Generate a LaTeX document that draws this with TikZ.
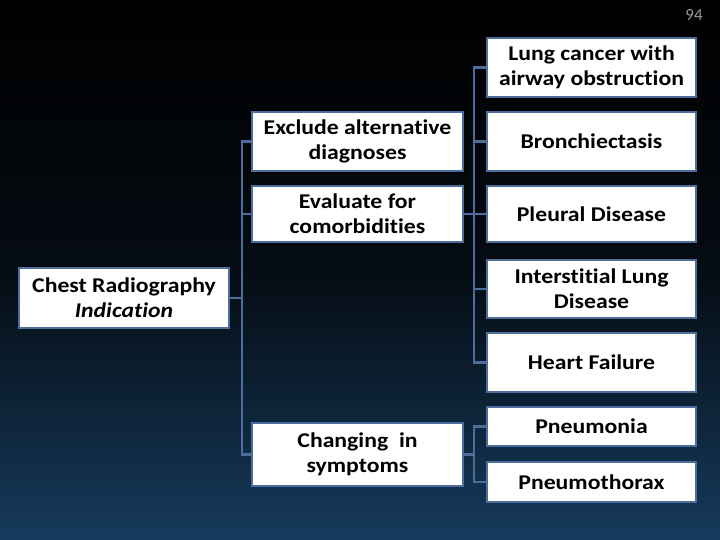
\documentclass[tikz,border=0pt]{standalone}
\usepackage{fontspec}
\setmainfont{Carlito}
\newfontfamily\boxfont[FakeStretch=1.13, Ligatures={NoCommon}]{Carlito}
\usetikzlibrary{calc}
\definecolor{bordercol}{HTML}{4D6E9C}
\definecolor{bgtop}{HTML}{000000}
\definecolor{bgbot}{HTML}{163A5C}
\definecolor{numgray}{HTML}{9A9A9A}
\tikzset{
  box/.style={draw=bordercol, line width=2.6pt, fill=white, text=black,
    font=\boxfont\fontsize{21}{25}\selectfont\bfseries, align=center, inner sep=0pt},
  link/.style={draw=bordercol, line width=2.6pt}
}
\begin{document}
\begin{tikzpicture}[x=1pt,y=-1pt]
\useasboundingbox (0,0) rectangle (720,540);
\shade[top color=bgtop, bottom color=bgbot, middle color=black!80!bgbot] (0,0) rectangle (720,540);
\node[text=numgray, font=\fontsize{17}{19}\selectfont] (num) at (694,15) {94};

\node[box, minimum width=209, minimum height=59] (lung) at (591.5,67.5) {Lung cancer with\\airway obstruction};
\node[box, minimum width=211, minimum height=59] (exclude) at (357.5,141.5) {Exclude alternative\\diagnoses};
\node[box, minimum width=209, minimum height=59] (bronch) at (591.5,141.5) {Bronchiectasis};
\node[box, minimum width=211, minimum height=56] (evaluate) at (357.5,214) {Evaluate for\\comorbidities};
\node[box, minimum width=209, minimum height=56] (pleural) at (591.5,214) {Pleural Disease};
\node[box, minimum width=209, minimum height=58] (inter) at (591.5,289) {Interstitial Lung\\Disease};
\node[box, minimum width=210, minimum height=60] (chest) at (124,298) {Chest Radiography\\\itshape Indication};
\node[box, minimum width=209, minimum height=59] (heart) at (591.5,362.5) {Heart Failure};
\node[box, minimum width=209, minimum height=39] (pneumonia) at (591.5,426.5) {Pneumonia};
\node[box, minimum width=209, minimum height=40] (pneumothorax) at (591.5,482) {Pneumothorax};
\node[box, minimum width=211, minimum height=63] (changing) at (357.5,454.5) {Changing~ in\\symptoms};

\coordinate (tl) at (242,0);
\coordinate (tr) at (474,0);

% left tree
\draw[link] (exclude.west) -- (exclude.west -| tl) |- (changing.west);
\draw[link] (evaluate.west) -- (evaluate.west -| tl);
\draw[link] (chest.east) -- (chest.east -| tl);

% right tree
\draw[link] (lung.west) -- (lung.west -| tr) |- (heart.west);
\draw[link] (bronch.west) -- (bronch.west -| tr);
\draw[link] (pleural.west) -- (pleural.west -| tr);
\draw[link] (inter.west) -- (inter.west -| tr);
\draw[link] (evaluate.east) -- (evaluate.east -| tr);

% lower tree
\draw[link] (pneumonia.west) -- (pneumonia.west -| tr) |- (pneumothorax.west);
\draw[link] (changing.east) -- (changing.east -| tr);
\end{tikzpicture}
\end{document}
